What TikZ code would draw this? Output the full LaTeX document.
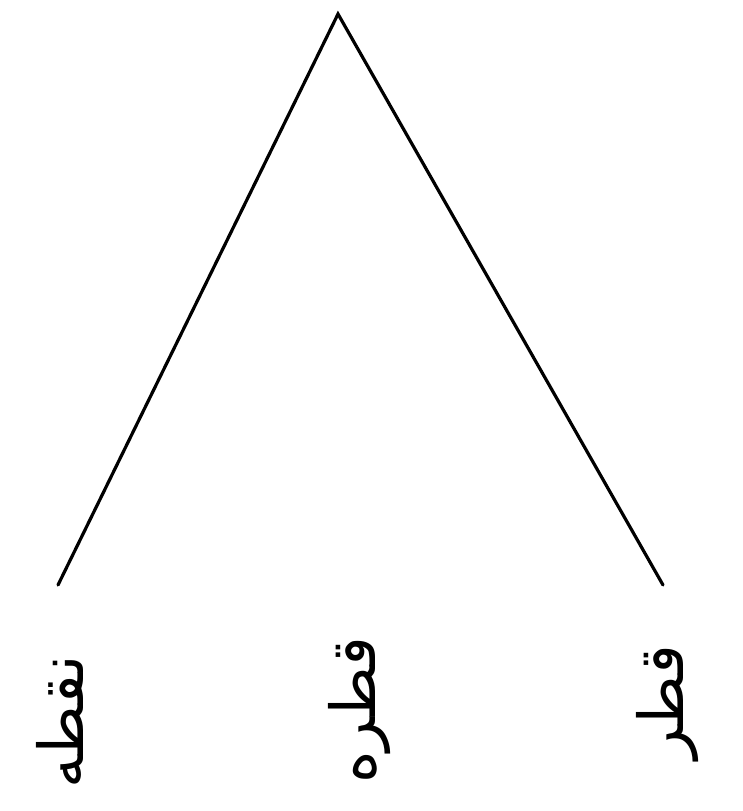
\documentclass[tikz,border=0pt]{standalone}
\usepackage{fontspec}
\newfontfamily\arabicfont[Script=Arabic]{DejaVu Sans}
\TeXXeTstate=1
\begin{document}
\begin{tikzpicture}[x=1pt,y=-1pt]
\tikzset{
  edge/.style={line width=3.2pt, line cap=round, black},
  word/.style={font=\arabicfont\fontsize{62}{66}\selectfont, rotate=90, inner sep=0pt}
}
\useasboundingbox[fill=white] (0,0) rectangle (743,811);
\coordinate (A) at (338,14);
\coordinate (L) at (58,585);
\coordinate (R) at (663,585);
\draw[edge] (L) -- (A) -- (R);
\node[word] (wl) at (60,722) {\beginR نقطه\endR};
\node[word] (wm) at (360,710) {\beginR قطره\endR};
\node[word] (wr) at (668,702) {\beginR قطر\endR};
\end{tikzpicture}
\end{document}
